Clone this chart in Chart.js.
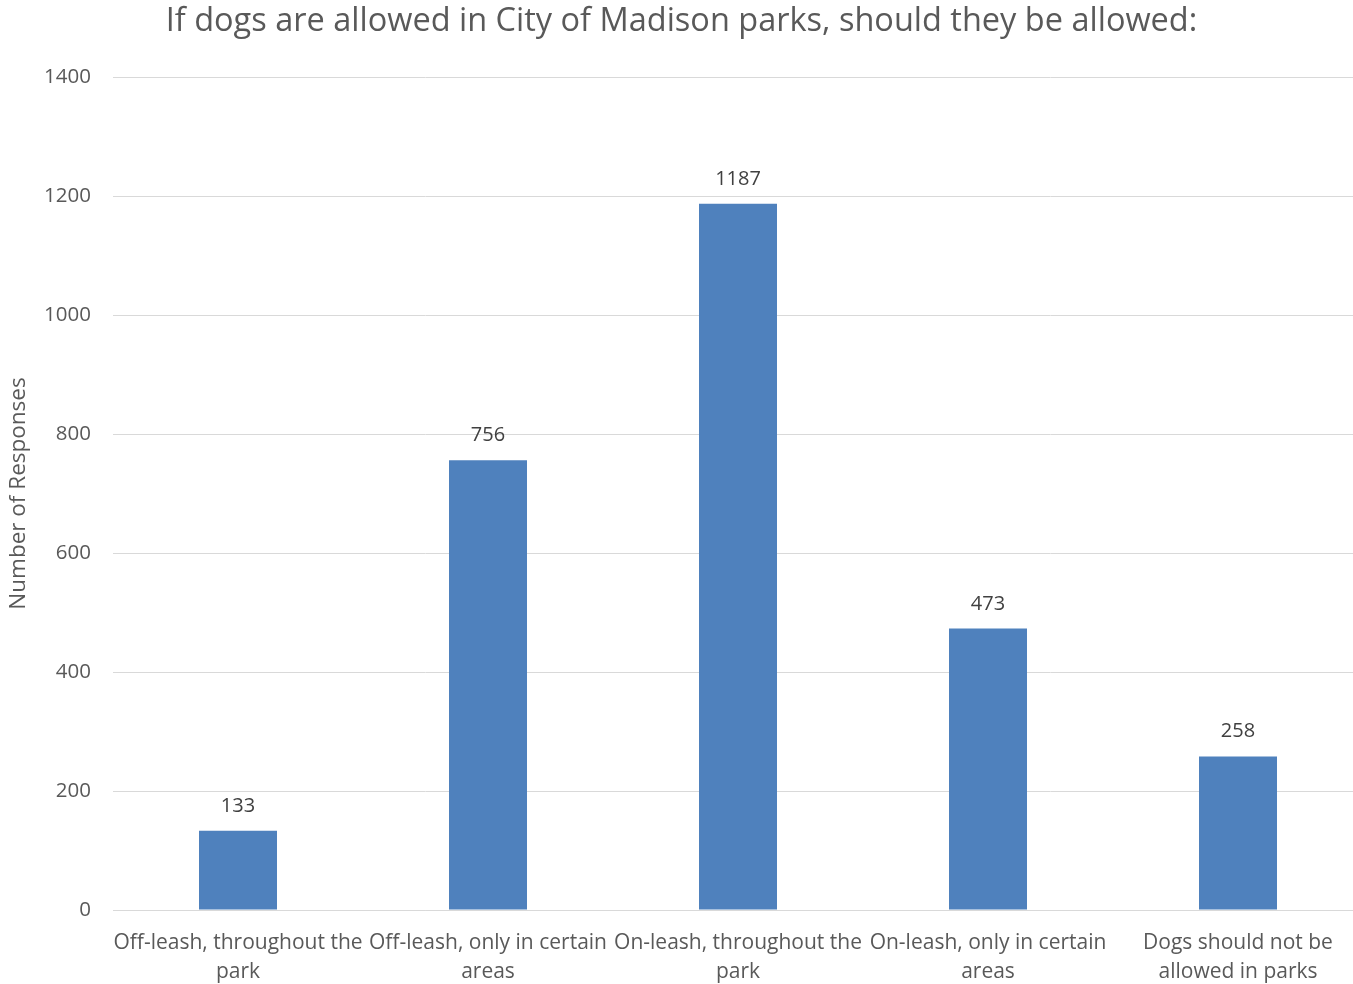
<!DOCTYPE html>
<html>
<head>
<meta charset="utf-8">
<script src="https://cdn.jsdelivr.net/npm/chart.js@4/dist/chart.umd.min.js"></script>
<style>
html,body{margin:0;padding:0;background:#fff;overflow:hidden;}
#wrap{width:1353px;height:984px;position:relative;overflow:hidden;}
</style>
</head>
<body>
<div id="wrap"><canvas id="c" width="1363" height="984"></canvas></div>
<script>
const categories = [
  ["Off-leash, throughout the", "park"],
  ["Off-leash, only in certain", "areas"],
  ["On-leash, throughout the", "park"],
  ["On-leash, only in certain", "areas"],
  ["Dogs should not be", "allowed in parks"]
];
const responses = [133, 756, 1187, 473, 258];
const yTicks = [0, 200, 400, 600, 800, 1000, 1200, 1400];

const FONT = "'Open Sans', 'DejaVu Sans', sans-serif";

const valueLabels = {
  id: 'valueLabels',
  afterDatasetsDraw(chart) {
    const ctx = chart.ctx;
    const meta = chart.getDatasetMeta(0);
    ctx.save();
    ctx.font = "20px " + FONT;
    ctx.fillStyle = '#404040';
    ctx.textAlign = 'center';
    ctx.textBaseline = 'alphabetic';
    meta.data.forEach((bar, i) => {
      ctx.fillText(String(responses[i]), bar.x, bar.y - 19);
    });
    ctx.restore();
  }
};

new Chart(document.getElementById('c'), {
  type: 'bar',
  data: {
    labels: categories,
    datasets: [{
      data: responses,
      backgroundColor: '#4F81BD',
      borderWidth: 0,
      barPercentage: 0.312,
      categoryPercentage: 1.0
    }]
  },
  options: {
    responsive: false,
    animation: false,
    layout: { padding: { left: 0, right: 0, top: 0, bottom: 0 } },
    plugins: {
      legend: { display: false },
      tooltip: { enabled: false },
      title: {
        display: true,
        text: 'If dogs are allowed in City of Madison parks, should they be allowed:',
        color: '#595959',
        font: { family: FONT, size: 32.5, weight: 'normal' },
        padding: { top: 2, bottom: 36 }
      }
    },
    scales: {
      x: {
        grid: { display: false },
        border: { display: true, color: '#D9D9D9', width: 1 },
        ticks: {
          color: '#595959',
          font: { family: FONT, size: 21, lineHeight: 1.38 },
          maxRotation: 0,
          autoSkip: false,
          padding: 11
        },
        afterFit(scale) { scale.height = 74; }
      },
      y: {
        min: 0,
        max: 1400,
        afterBuildTicks(scale) { scale.ticks = yTicks.map(v => ({ value: v })); },
        grid: { color: '#D9D9D9', lineWidth: 1, drawTicks: false },
        border: { display: false },
        ticks: {
          color: '#595959',
          font: { family: FONT, size: 20.5 },
          padding: 22,
          callback: (v) => String(v)
        },
        title: {
          display: true,
          text: 'Number of Responses',
          color: '#595959',
          font: { family: FONT, size: 22.5 },
          padding: { top: 5, bottom: 0 }
        },
        afterFit(scale) { scale.width = 113; }
      }
    }
  },
  plugins: [valueLabels]
});
</script>
</body>
</html>
